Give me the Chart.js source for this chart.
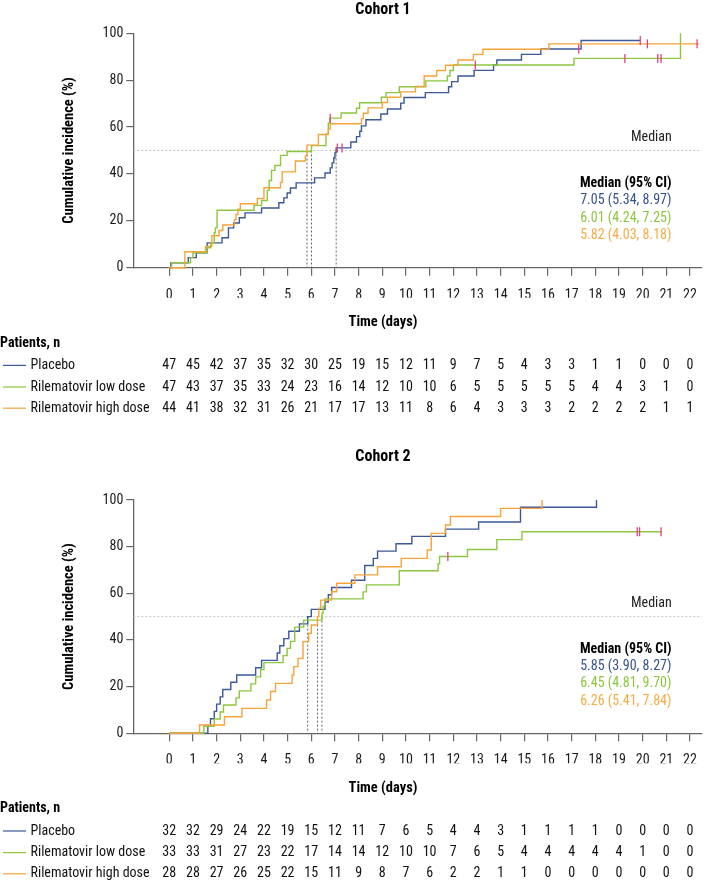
<!DOCTYPE html>
<html lang="en">
<head>
    <meta charset="UTF-8">
    <title>Cumulative incidence by cohort</title>
    <script src="https://cdn.jsdelivr.net/npm/chart.js@4.4.1/dist/chart.umd.min.js"></script>
    <style>
        body { margin: 0; background: #fff; width: 708px; height: 883px; position: relative; overflow: hidden; }
        .panel { position: absolute; left: 0; width: 708px; }
    </style>
</head>
<body>
    <div class="panel" style="top:0;height:425px;"><canvas id="cohort1" width="708" height="425"></canvas></div>
    <div class="panel" style="top:440px;height:443px;"><canvas id="cohort2" width="708" height="443"></canvas></div>

    <script>
        // ---- data ----
        const days = [0, 1, 2, 3, 4, 5, 6, 7, 8, 9, 10, 11, 12, 13, 14, 15, 16, 17, 18, 19, 20, 21, 22];
        const yTicks = [0, 20, 40, 60, 80, 100];
        const arms = ['Placebo', 'Rilematovir low dose', 'Rilematovir high dose'];

        // Cohort 1 step curves (event time in days, cumulative incidence %)
        const c1PlaceboT = [0.07, 0.8, 1.14, 1.6, 2.23, 2.5, 2.72, 2.96, 3.2, 3.9, 4.63, 4.84, 4.98, 5.12, 5.36, 6.14, 6.58, 6.8, 6.88, 6.95, 7.0, 7.05, 7.67, 7.91, 8.05, 8.12, 8.31, 8.94, 9.22, 9.78, 9.92, 10.82, 11.8, 11.93, 12.2, 12.88, 13.7, 13.84, 14.88, 15.7, 17.4];
        const c1PlaceboY = [2.1, 4.3, 6.4, 10.6, 12.8, 17, 19.1, 21.3, 23.4, 25.5, 27.7, 29.8, 31.9, 34, 36.2, 38.3, 40.4, 42.6, 44.7, 46.8, 49, 51.1, 53.6, 55.9, 58.2, 60.5, 63.1, 65.6, 67.7, 70.2, 72.6, 74.7, 77.2, 79.4, 81.8, 84.2, 86.5, 88.6, 91, 93.3, 96.9];
        const c1PlaceboEnd = 19.9;
        const c1LowT = [0.1, 0.9, 1.0, 1.6, 1.75, 1.9, 1.95, 2.02, 3.58, 3.9, 4.14, 4.22, 4.32, 4.46, 4.7, 4.98, 6.01, 6.62, 6.72, 6.78, 7.26, 7.91, 8.04, 8.96, 9.16, 9.72, 10.84, 11.75, 11.86, 12.0, 17.1, 21.6];
        const c1LowY = [2.1, 4.3, 6.4, 8.5, 10.6, 14.9, 17, 24.5, 26.6, 28.7, 33, 37.2, 41.5, 43.6, 47.9, 49.6, 52.1, 57, 61.7, 63.8, 66, 68, 70.4, 72.7, 74.7, 77.2, 79.7, 81.8, 84.1, 86.5, 89.3, 100];
        const c1LowEnd = null;
        const c1HighT = [0.66, 1.53, 1.8, 2.1, 2.26, 2.75, 2.82, 2.9, 3.0, 3.72, 4.0, 4.7, 4.77, 5.33, 5.75, 5.82, 6.3, 6.72, 6.8, 8.12, 8.2, 8.4, 9.0, 9.22, 9.78, 10.4, 10.77, 11.3, 11.67, 12.2, 12.85, 13.25, 16.04];
        const c1HighY = [6.8, 9.1, 13.6, 15.9, 18.2, 20.5, 22.7, 25, 27.3, 29.5, 34.1, 36.4, 40.9, 45.5, 47.7, 52.3, 56.8, 59.1, 61.4, 63.6, 65.9, 68.2, 70.5, 72.7, 75, 77.3, 81.8, 84.1, 86.4, 88.6, 91, 93.2, 95.5];
        const c1HighEnd = 22.4;

        // Cohort 1 censored observations
        const c1PlaceboCensT = [7.1, 7.3, 17.3, 19.9];
        const c1PlaceboCensY = [51.1, 51.1, 93.3, 96.9];
        const c1LowCensT = [6.8, 12.93, 19.25, 20.64, 20.78];
        const c1LowCensY = [63.8, 86.5, 89.3, 89.3, 89.3];
        const c1HighCensT = [20.2, 22.3];
        const c1HighCensY = [95.5, 95.5];

        const c1Medians = [7.05, 6.01, 5.82];
        const c1MedianText = ['7.05 (5.34, 8.97)', '6.01 (4.24, 7.25)', '5.82 (4.03, 8.18)'];

        const c1PlaceboN = [47, 45, 42, 37, 35, 32, 30, 25, 19, 15, 12, 11, 9, 7, 5, 4, 3, 3, 1, 1, 0, 0, 0];
        const c1LowN = [47, 43, 37, 35, 33, 24, 23, 16, 14, 12, 10, 10, 6, 5, 5, 5, 5, 5, 4, 4, 3, 1, 0];
        const c1HighN = [44, 41, 38, 32, 31, 26, 21, 17, 17, 13, 11, 8, 6, 4, 3, 3, 3, 2, 2, 2, 2, 1, 1];

        // Cohort 2 step curves
        const c2PlaceboT = [1.63, 1.74, 1.9, 2.0, 2.15, 2.26, 2.6, 2.85, 3.65, 3.9, 4.56, 4.67, 4.84, 5.05, 5.5, 5.85, 6.0, 6.58, 6.72, 6.86, 7.7, 8.26, 8.62, 8.8, 9.58, 10.25, 11.67, 13.07, 14.84, 18.05];
        const c2PlaceboY = [3.1, 6.25, 9.4, 12.5, 15.6, 18.75, 21.9, 25, 28.1, 31.25, 34.4, 37.5, 40.6, 43.75, 46.9, 50, 53.1, 56.25, 59.4, 62.5, 65.6, 71.9, 75, 78.1, 81.25, 84.4, 87.5, 90.6, 96.9, 100];
        const c2PlaceboEnd = null;
        const c2LowT = [1.46, 1.9, 2.15, 2.29, 2.82, 2.96, 3.45, 3.65, 3.86, 4.0, 4.81, 4.98, 5.12, 5.3, 5.68, 6.45, 6.5, 6.58, 8.19, 8.33, 9.72, 11.36, 11.42, 12.6, 13.84, 14.9];
        const c2LowY = [3.0, 6.1, 9.1, 12.1, 15.2, 18.2, 21.2, 24.2, 27.3, 30.3, 33.3, 36.4, 39.4, 45.5, 48.5, 51.5, 54.5, 57.6, 60.6, 63.6, 69.7, 72.7, 75.8, 78.8, 83, 86.4];
        const c2LowEnd = 20.8;
        const c2HighT = [1.28, 2.33, 3.07, 4.11, 4.28, 4.49, 5.19, 5.26, 5.44, 5.65, 5.89, 6.0, 6.26, 6.32, 6.4, 6.86, 7.07, 7.84, 8.8, 9.8, 10.9, 11.07, 11.67, 11.88, 14.0, 15.75];
        const c2HighY = [3.57, 7.1, 10.7, 14.3, 17.9, 21.4, 25, 28.6, 32.1, 39.3, 42.9, 46.4, 50, 53.6, 57.1, 60.7, 64.3, 67.9, 71.4, 75, 78.6, 85.7, 89.3, 92.9, 96.4, 100];
        const c2HighEnd = null;

        const c2PlaceboCensT = [];
        const c2PlaceboCensY = [];
        const c2LowCensT = [11.77, 19.77, 19.87, 20.78];
        const c2LowCensY = [75.8, 86.4, 86.4, 86.4];
        const c2HighCensT = [];
        const c2HighCensY = [];

        const c2Medians = [5.85, 6.45, 6.26];
        const c2MedianText = ['5.85 (3.90, 8.27)', '6.45 (4.81, 9.70)', '6.26 (5.41, 7.84)'];

        const c2PlaceboN = [32, 32, 29, 24, 22, 19, 15, 12, 11, 7, 6, 5, 4, 4, 3, 1, 1, 1, 1, 0, 0, 0, 0];
        const c2LowN = [33, 33, 31, 27, 23, 22, 17, 14, 14, 12, 10, 10, 7, 6, 5, 4, 4, 4, 4, 4, 1, 0, 0];
        const c2HighN = [28, 28, 27, 26, 25, 22, 15, 11, 9, 8, 7, 6, 2, 2, 1, 1, 0, 0, 0, 0, 0, 0, 0];

        // ---- style ----
        const FONT = "'Liberation Sans Narrow', 'Roboto Condensed', 'Arial Narrow', Roboto, sans-serif";
        const lineColors = ['#3b5998', '#8dc63f', '#f7a33b'];
        const textColors = ['#34528f', '#8cc63f', '#f8ab45'];
        const censorColor = '#e5407f';
        const axisColor = '#666';
        const X_MIN = -1.52, X_MAX = 22.5;

        Chart.defaults.font.family = FONT;
        Chart.defaults.color = '#1a1a1a';

        function stepPoints(t, y, end) {
            const pts = [{ x: 0, y: 0 }];
            t.forEach((v, i) => pts.push({ x: v, y: y[i] }));
            if (end !== null) pts.push({ x: end, y: y[y.length - 1] });
            return pts;
        }

        function pairs(t, y) {
            return t.map((v, i) => ({ x: v, y: y[i] }));
        }

        const cohortText = {
            id: 'cohortText',
            afterDraw(chart) {
                const o = chart.options.plugins.cohortText;
                const { ctx, chartArea: a, scales: { x } } = chart;
                ctx.save();
                ctx.textBaseline = 'middle';

                // chart title and x axis title
                ctx.textAlign = 'center';
                ctx.fillStyle = '#000';
                ctx.font = 'bold 16px ' + FONT;
                ctx.fillText(o.title, 383, o.titleY);
                ctx.font = 'bold 14.5px ' + FONT;
                ctx.fillText('Time (days)', 383, a.bottom + 55);

                // median label and medians box
                ctx.textAlign = 'right';
                ctx.font = '14px ' + FONT;
                ctx.fillStyle = '#222';
                ctx.fillText('Median', a.right - 30, a.bottom - 130);
                ctx.textAlign = 'center';
                ctx.font = 'bold 14px ' + FONT;
                ctx.fillStyle = '#000';
                ctx.fillText('Median (95% CI)', a.right - 76, a.bottom - 84);
                ctx.font = '14px ' + FONT;
                o.medianText.forEach((t, i) => {
                    ctx.fillStyle = textColors[i];
                    ctx.fillText(t, a.right - 76, a.bottom - 67 + i * 17.5);
                });

                // numbers at risk
                ctx.textAlign = 'left';
                ctx.fillStyle = '#000';
                ctx.font = 'bold 14px ' + FONT;
                ctx.fillText('Patients, n', 0, a.bottom + 75.5);
                const rowY = [97.7, 119.3, 140.5];
                o.risk.forEach((row, i) => {
                    const y = a.bottom + rowY[i];
                    ctx.strokeStyle = lineColors[i];
                    ctx.lineWidth = 1.2;
                    ctx.beginPath();
                    ctx.moveTo(3, y);
                    ctx.lineTo(26, y);
                    ctx.stroke();
                    ctx.textAlign = 'left';
                    ctx.fillStyle = '#111';
                    ctx.font = '14px ' + FONT;
                    ctx.fillText(arms[i], 30.5, y);
                    ctx.textAlign = 'center';
                    row.forEach((n, j) => ctx.fillText(String(n), x.getPixelForValue(days[j]), y));
                });
                ctx.restore();
            }
        };

        function makeChart(id, c) {
            const datasets = [];
            // median reference lines
            datasets.push({
                data: [{ x: X_MIN, y: 50 }, { x: X_MAX, y: 50 }],
                borderColor: '#bdbdbd', borderWidth: 0.9, borderDash: [2, 2], order: 10
            });
            c.medians.forEach(m => datasets.push({
                data: [{ x: m, y: 50 }, { x: m, y: 0 }],
                borderColor: '#555', borderWidth: 0.9, borderDash: [2, 2], order: 9
            }));
            // step curves
            c.curves.forEach((cv, i) => datasets.push({
                label: arms[i],
                data: stepPoints(cv.t, cv.y, cv.end),
                stepped: true,
                borderColor: lineColors[i],
                borderWidth: 1.4,
                order: 5 - i
            }));
            // censor marks
            c.censors.forEach(cs => datasets.push({
                data: pairs(cs.t, cs.y),
                showLine: false,
                pointStyle: 'line',
                rotation: 90,
                pointRadius: 4.5,
                pointBorderColor: censorColor,
                pointBorderWidth: 1.3,
                order: 0
            }));

            return new Chart(document.getElementById(id), {
                type: 'line',
                data: { datasets },
                options: {
                    responsive: false,
                    animation: false,
                    clip: false,
                    elements: { point: { radius: 0 }, line: { fill: false } },
                    layout: { padding: { top: c.padTop, bottom: c.padBottom, left: 0, right: 0 } },
                    plugins: {
                        legend: { display: false },
                        tooltip: { enabled: false },
                        cohortText: { title: c.title, titleY: c.titleY, medianText: c.medianText, risk: c.risk }
                    },
                    scales: {
                        x: {
                            type: 'linear',
                            min: X_MIN,
                            max: X_MAX,
                            afterBuildTicks: axis => { axis.ticks = days.map(v => ({ value: v })); },
                            afterFit: axis => { axis.height = 30; },
                            ticks: { font: { size: 14 }, color: '#1a1a1a', padding: 11, maxRotation: 0, autoSkip: false },
                            grid: { drawOnChartArea: false, drawTicks: true, tickLength: 8, color: axisColor, lineWidth: 1.2 },
                            border: { display: true, color: axisColor, width: 1.3 }
                        },
                        y: {
                            min: 0,
                            max: 100,
                            afterBuildTicks: axis => { axis.ticks = yTicks.map(v => ({ value: v })); },
                            afterFit: axis => { axis.width = 133.3; },
                            ticks: { font: { size: 14 }, color: '#1a1a1a', padding: 3 },
                            grid: { drawOnChartArea: false, drawTicks: true, tickLength: 7, color: axisColor, lineWidth: 1.2 },
                            border: { display: true, color: axisColor, width: 1.3 },
                            title: {
                                display: true,
                                text: 'Cumulative incidence (%)',
                                font: { size: 14.5, weight: 'bold' },
                                color: '#000',
                                padding: { top: 60.6, bottom: 0 }
                            }
                        }
                    }
                },
                plugins: [cohortText]
            });
        }

        makeChart('cohort1', {
            title: 'Cohort 1', titleY: 10, padTop: 33.3, padBottom: 425 - 267.7 - 30,
            medians: c1Medians, medianText: c1MedianText,
            curves: [
                { t: c1PlaceboT, y: c1PlaceboY, end: c1PlaceboEnd },
                { t: c1LowT, y: c1LowY, end: c1LowEnd },
                { t: c1HighT, y: c1HighY, end: c1HighEnd }
            ],
            censors: [
                { t: c1PlaceboCensT, y: c1PlaceboCensY },
                { t: c1LowCensT, y: c1LowCensY },
                { t: c1HighCensT, y: c1HighCensY }
            ],
            risk: [c1PlaceboN, c1LowN, c1HighN]
        });

        makeChart('cohort2', {
            title: 'Cohort 2', titleY: 17, padTop: 60, padBottom: 443 - 293.3 - 30,
            medians: c2Medians, medianText: c2MedianText,
            curves: [
                { t: c2PlaceboT, y: c2PlaceboY, end: c2PlaceboEnd },
                { t: c2LowT, y: c2LowY, end: c2LowEnd },
                { t: c2HighT, y: c2HighY, end: c2HighEnd }
            ],
            censors: [
                { t: c2PlaceboCensT, y: c2PlaceboCensY },
                { t: c2LowCensT, y: c2LowCensY },
                { t: c2HighCensT, y: c2HighCensY }
            ],
            risk: [c2PlaceboN, c2LowN, c2HighN]
        });
    </script>
</body>
</html>
